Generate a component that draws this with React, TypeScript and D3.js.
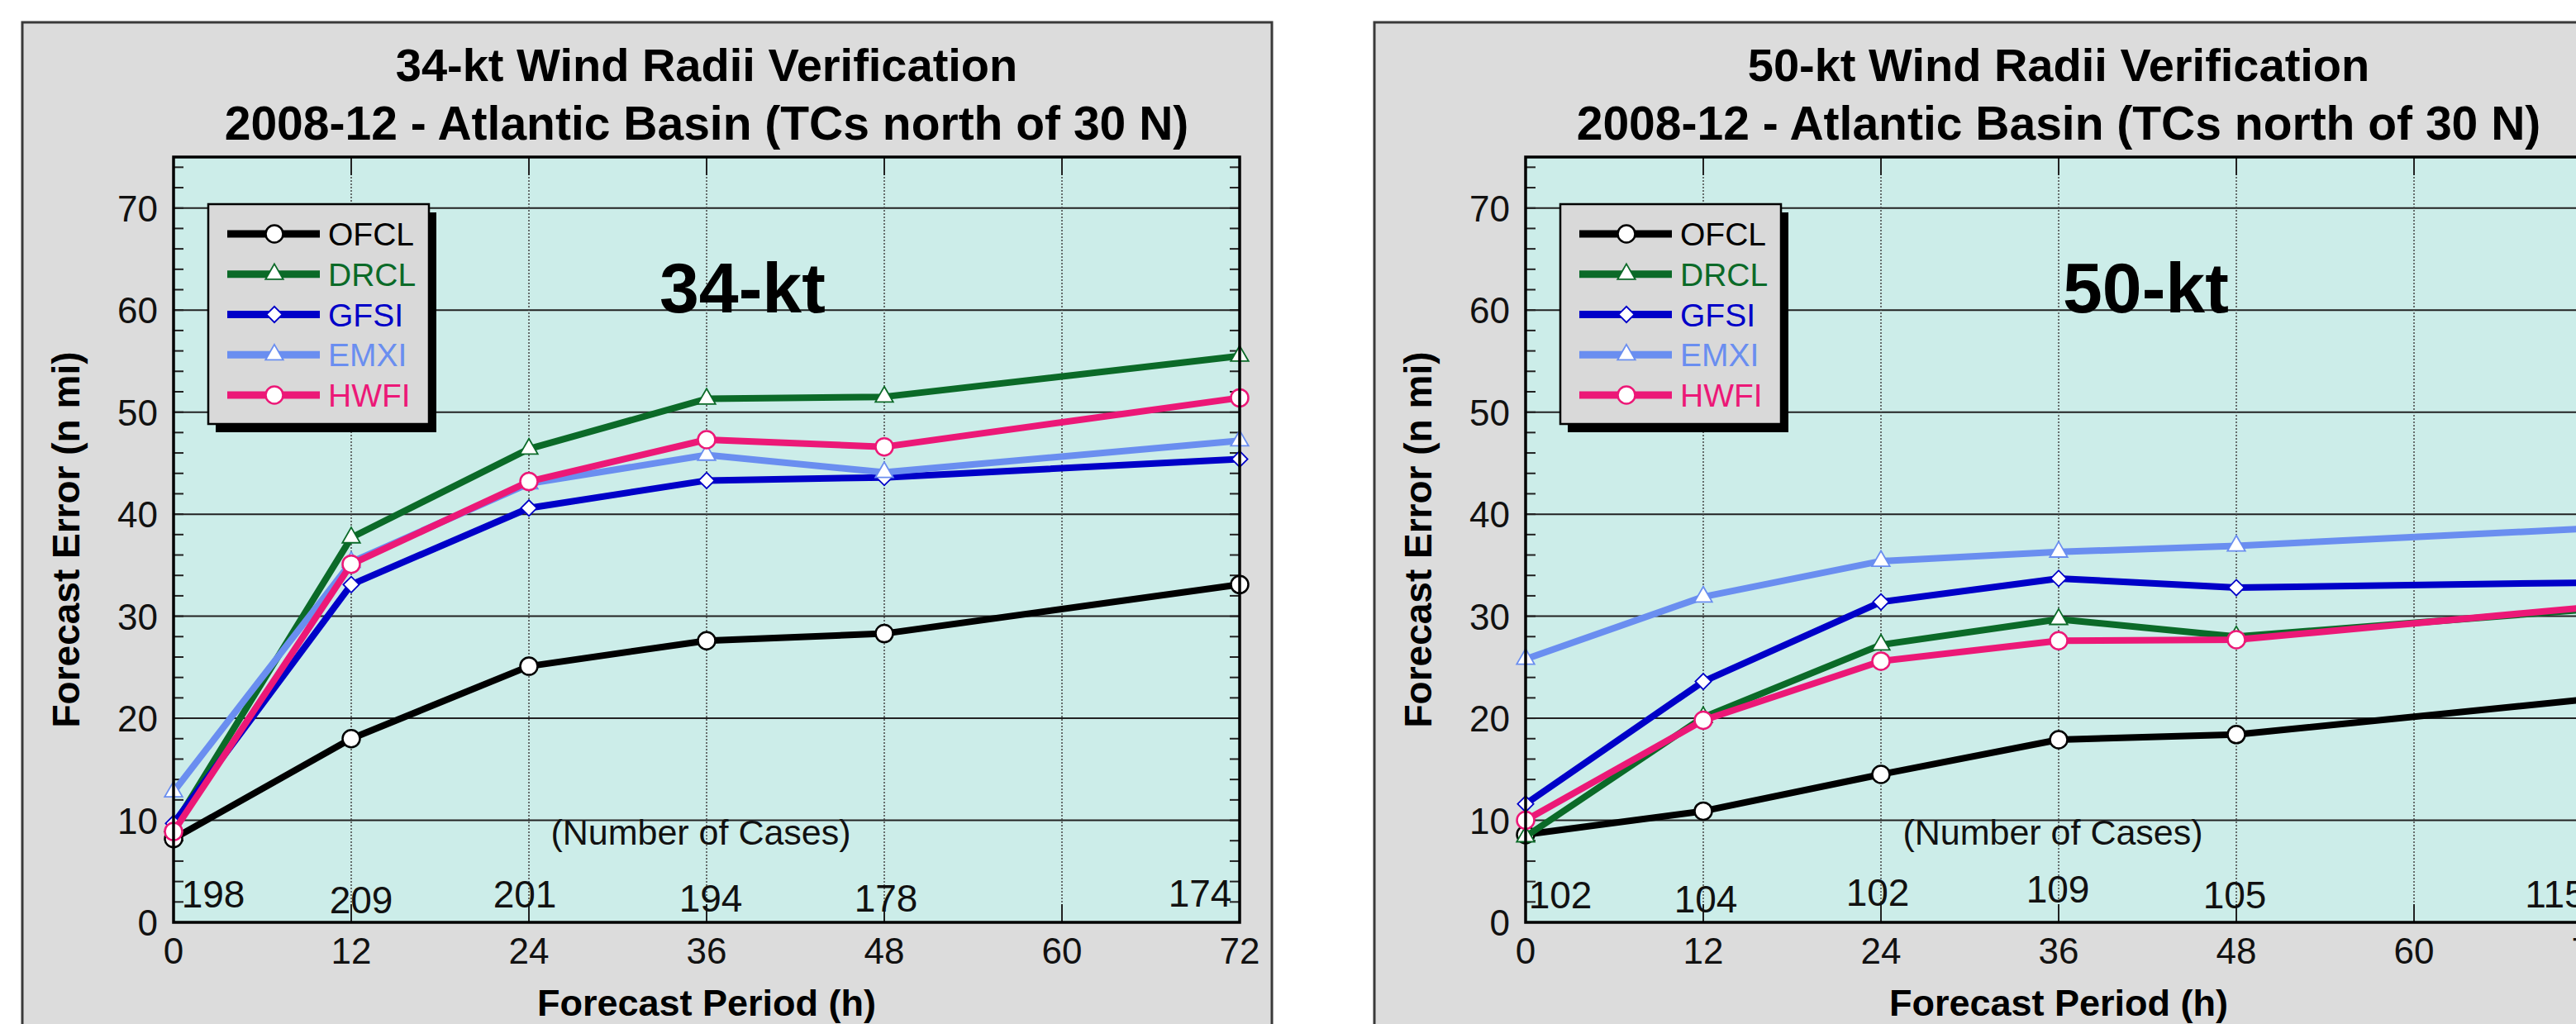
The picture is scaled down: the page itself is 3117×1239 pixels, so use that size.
import React, { useEffect } from 'react';
import * as d3 from 'd3';

// forecast hours that carry a verification point
const hours = [0, 12, 24, 36, 48, 72];
const models = ['OFCL', 'DRCL', 'GFSI', 'EMXI', 'HWFI'];

// 34-kt wind radii errors (n mi)
const ofcl34 = [8.2, 18.0, 25.1, 27.6, 28.3, 33.1];
const drcl34 = [9.4, 37.7, 46.4, 51.3, 51.5, 55.5];
const gfsi34 = [9.7, 33.1, 40.6, 43.3, 43.6, 45.4];
const emxi34 = [12.8, 35.3, 43.0, 45.8, 44.1, 47.2];
const hwfi34 = [8.9, 35.1, 43.2, 47.3, 46.6, 51.4];
const cases34 = [198, 209, 201, 194, 178, 174];

// 50-kt wind radii errors (n mi)
const ofcl50 = [8.6, 10.9, 14.5, 17.9, 18.4, 21.9];
const drcl50 = [8.4, 20.1, 27.2, 29.7, 28.0, 30.7];
const gfsi50 = [11.6, 23.6, 31.4, 33.7, 32.8, 33.3];
const emxi50 = [25.8, 31.9, 35.4, 36.3, 36.9, 38.6];
const hwfi50 = [10.0, 19.8, 25.6, 27.6, 27.7, 30.9];
const cases50 = [102, 104, 102, 109, 105, 115];

const xTicks = [0, 12, 24, 36, 48, 60, 72];
const yTicks = [0, 10, 20, 30, 40, 50, 60, 70];

const FONT = "'Liberation Sans', Arial, Helvetica, sans-serif";

const modelStyle = {
  OFCL: { color: '#000000', marker: 'circle' },
  DRCL: { color: '#0b6a28', marker: 'triangle' },
  GFSI: { color: '#0000c8', marker: 'diamond' },
  EMXI: { color: '#6a8ef0', marker: 'triangle' },
  HWFI: { color: '#ec1877', marker: 'circle' },
};

const charts = [
  {
    key: '34',
    panelX: 27,
    title: '34-kt Wind Radii Verification',
    series: { OFCL: ofcl34, DRCL: drcl34, GFSI: gfsi34, EMXI: emxi34, HWFI: hwfi34 },
    cases: cases34,
    caseNudge: [[48, -18], [12, -11], [-5, -18], [5, -13], [2, -13], [-48, -19]],
    bigLabel: '34-kt',
    bigLabelX: 588,
  },
  {
    key: '50',
    panelX: 1663,
    title: '50-kt Wind Radii Verification',
    series: { OFCL: ofcl50, DRCL: drcl50, GFSI: gfsi50, EMXI: emxi50, HWFI: hwfi50 },
    cases: cases50,
    caseNudge: [[42, -17], [3, -12], [-4, -20], [-1, -24], [-2, -17], [-44, -18]],
    bigLabel: '50-kt',
    bigLabelX: 650,
  },
];

const Marker = ({ type, x, y, color, fill = '#ffffff' }) => {
  if (type === 'circle') {
    return <circle cx={x} cy={y} r={10.5} fill={fill} stroke={color} strokeWidth={2.5} />;
  }
  if (type === 'triangle') {
    const d = d3.symbol(d3.symbolTriangle, 200)();
    return <path d={d} transform={`translate(${x},${y})`} fill={fill} stroke={color} strokeWidth={1.8} />;
  }
  const d = d3.symbol(d3.symbolSquare, 185)();
  return <path d={d} transform={`translate(${x},${y}) rotate(45)`} fill={fill} stroke={color} strokeWidth={1.8} />;
};

const Panel = ({ chart }) => {
  const px = chart.panelX + 183;
  const py = 190;
  const pw = 1290;
  const ph = 926;

  const x = d3.scaleLinear().domain([0, 72]).range([px, px + pw]);
  const y = d3.scaleLinear().domain([0, 75]).range([py + ph, py]);
  const line = d3
    .line()
    .x((d) => x(d[0]))
    .y((d) => y(d[1]));

  const minor = d3.range(0, 76, 2);
  const cx = px + pw / 2;
  const lgX = chart.panelX + 225;
  const lgY = 247;

  return (
    <g>
      <rect x={chart.panelX} y={27} width={1512} height={1260} fill="#dcdcdc" stroke="#3a3a3a" strokeWidth={3} />

      <text x={cx} y={98} textAnchor="middle" fontFamily={FONT} fontWeight="bold" fontSize={56} fill="#000">
        {chart.title}
      </text>
      <text x={cx} y={169} textAnchor="middle" fontFamily={FONT} fontWeight="bold" fontSize={57} fill="#000">
        2008-12 - Atlantic Basin (TCs north of 30 N)
      </text>

      <rect x={px} y={py} width={pw} height={ph} fill="#ccede9" />

      {/* horizontal grid */}
      {yTicks
        .filter((t) => t > 0)
        .map((t) => (
          <line key={`h${t}`} x1={px} x2={px + pw} y1={y(t)} y2={y(t)} stroke="#222" strokeWidth={2} />
        ))}
      {/* vertical dotted grid */}
      {xTicks
        .filter((t) => t > 0 && t < 72)
        .map((t) => (
          <line key={`v${t}`} x1={x(t)} x2={x(t)} y1={py} y2={py + ph} stroke="#444" strokeWidth={1.5} strokeDasharray="2 2" />
        ))}
      {/* minor ticks */}
      {minor.map((t) => (
        <g key={`m${t}`}>
          <line x1={px} x2={px + 12} y1={y(t)} y2={y(t)} stroke="#222" strokeWidth={2} />
          <line x1={px + pw - 12} x2={px + pw} y1={y(t)} y2={y(t)} stroke="#222" strokeWidth={2} />
        </g>
      ))}
      {xTicks.map((t) => (
        <g key={`xt${t}`}>
          <line x1={x(t)} x2={x(t)} y1={py + ph} y2={py + ph - 22} stroke="#222" strokeWidth={2} />
          <line x1={x(t)} x2={x(t)} y1={py} y2={py + 22} stroke="#222" strokeWidth={2} />
        </g>
      ))}

      <text x={px + 638} y={1022} textAnchor="middle" fontFamily={FONT} fontSize={43} fill="#111">
        (Number of Cases)
      </text>
      {chart.cases.map((c, i) => (
        <text
          key={`c${i}`}
          x={x(hours[i]) + chart.caseNudge[i][0]}
          y={py + ph + chart.caseNudge[i][1]}
          textAnchor="middle"
          fontFamily={FONT}
          fontSize={46}
          fill="#111"
        >
          {c}
        </text>
      ))}

      <text x={px + chart.bigLabelX} y={378} fontFamily={FONT} fontWeight="bold" fontSize={86} fill="#000">
        {chart.bigLabel}
      </text>

      {/* series */}
      {models.map((m) => {
        const pts = hours.map((h, i) => [h, chart.series[m][i]]);
        const st = modelStyle[m];
        return (
          <g key={m}>
            <path d={line(pts)} fill="none" stroke={st.color} strokeWidth={8} strokeLinejoin="round" />
            {pts.map((p, i) => (
              <Marker key={i} type={st.marker} x={x(p[0])} y={y(p[1])} color={st.color} />
            ))}
          </g>
        );
      })}

      <rect x={px} y={py} width={pw} height={ph} fill="none" stroke="#000" strokeWidth={3.5} />

      {/* axes labels */}
      {yTicks.map((t) => (
        <text key={`yl${t}`} x={px - 19} y={y(t) + 16} textAnchor="end" fontFamily={FONT} fontSize={44} fill="#111">
          {t}
        </text>
      ))}
      {xTicks.map((t) => (
        <text key={`xl${t}`} x={x(t)} y={1166} textAnchor="middle" fontFamily={FONT} fontSize={44} fill="#111">
          {t}
        </text>
      ))}
      <text x={cx} y={1229} textAnchor="middle" fontFamily={FONT} fontWeight="bold" fontSize={45} fill="#000">
        Forecast Period (h)
      </text>
      <text
        transform={`translate(${chart.panelX + 69},${py + ph / 2}) rotate(-90)`}
        textAnchor="middle"
        fontFamily={FONT}
        fontWeight="bold"
        fontSize={46}
        fill="#000"
      >
        Forecast Error (n mi)
      </text>

      {/* legend */}
      <rect x={lgX + 9} y={lgY + 10} width={267} height={266} fill="#000" />
      <rect x={lgX} y={lgY} width={267} height={266} fill="#d9d9d9" stroke="#000" strokeWidth={2.5} />
      {models.map((m, i) => {
        const st = modelStyle[m];
        const ry = lgY + 36 + i * 48.75;
        return (
          <g key={`lg${m}`}>
            <line x1={lgX + 23} x2={lgX + 135} y1={ry} y2={ry} stroke={st.color} strokeWidth={9} />
            <Marker type={st.marker} x={lgX + 80} y={ry} color={st.color} />
            <text x={lgX + 145} y={ry + 14} fontFamily={FONT} fontSize={39} fill={st.color}>
              {m}
            </text>
          </g>
        );
      })}
    </g>
  );
};

export default function App() {
  useEffect(() => {
    document.body.style.margin = '0';
    document.body.style.overflow = 'hidden';
  }, []);

  return (
    <svg width={3117} height={1239} style={{ display: 'block', position: 'absolute', left: 0, top: 0 }}>
      <rect x={0} y={0} width={3117} height={1239} fill="#ffffff" />
      {charts.map((c) => (
        <Panel key={c.key} chart={c} />
      ))}
    </svg>
  );
}
